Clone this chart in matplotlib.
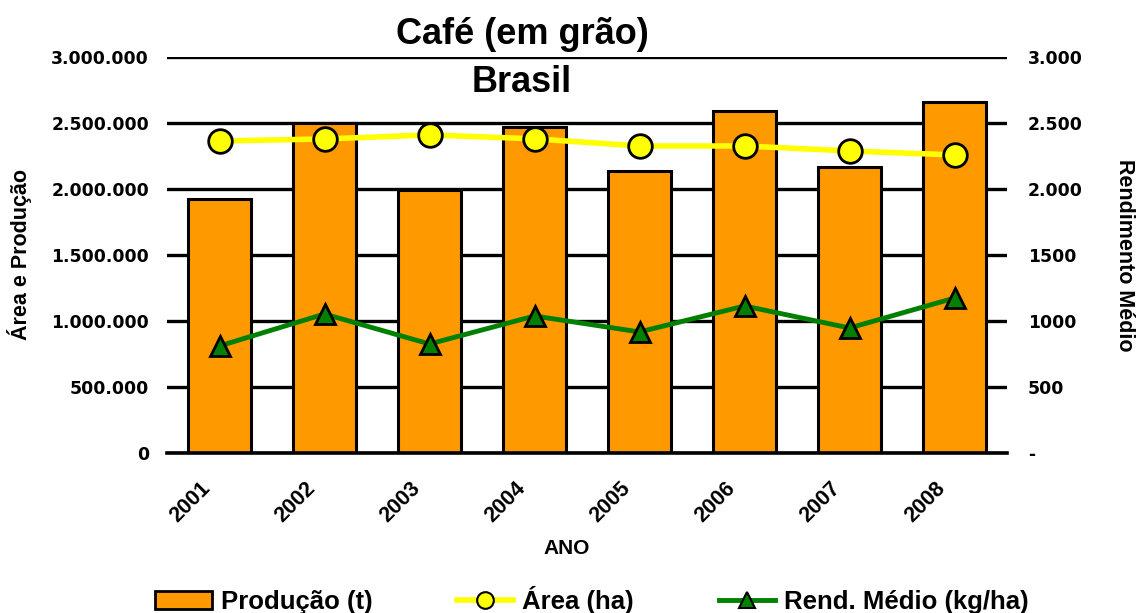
import matplotlib
matplotlib.use("Agg")
import matplotlib.pyplot as plt
import matplotlib.transforms as mtrans
from matplotlib.ticker import FixedLocator, FixedFormatter
from matplotlib.patches import Patch
from matplotlib.lines import Line2D

anos = ["2001", "2002", "2003", "2004", "2005", "2006", "2007", "2008"]
producao = [1924000, 2500000, 1992000, 2470000, 2136000, 2590000, 2167000, 2660000]
area = [2364000, 2379000, 2410000, 2380000, 2326000, 2326000, 2288000, 2258000]
rendimento = [811, 1053, 826, 1038, 917, 1114, 947, 1174]

left_ticks = [0, 500000, 1000000, 1500000, 2000000, 2500000, 3000000]
left_labels = ["0", "500.000", "1.000.000", "1.500.000", "2.000.000", "2.500.000", "3.000.000"]
right_ticks = [0, 500, 1000, 1500, 2000, 2500, 3000]
right_labels = ["-", "500", "1000", "1500", "2.000", "2.500", "3.000"]

fig = plt.figure(figsize=(11.41, 6.13), dpi=100)
ax = fig.add_axes([167/1141, 1 - 453/613, (1007-167)/1141, (453-57)/613])
ax2 = ax.twinx()

x = list(range(len(anos)))
ax.set_axisbelow(True)
ax.yaxis.grid(True, color="black", linewidth=2.4)
ax.bar(x, producao, width=0.6, color="#FF9900", edgecolor="black", linewidth=2.2, zorder=2)
ax.plot(x, area, color="#FFFF00", linewidth=4, marker="o", markersize=17,
        markerfacecolor="#FFFF00", markeredgecolor="black", markeredgewidth=2, zorder=3)
ax2.plot(x, rendimento, color="#008000", linewidth=3.5, marker="^", markersize=15,
         markerfacecolor="#008000", markeredgecolor="black", markeredgewidth=2, zorder=3)

ax.set_xlim(-0.5, len(anos) - 0.5)
ax.set_ylim(0, 3000000)
ax2.set_ylim(0, 3000)

for a in (ax, ax2):
    for s in a.spines.values():
        s.set_visible(False)
ax.spines["bottom"].set_visible(True)
ax.spines["bottom"].set_linewidth(2.6)

ax.yaxis.set_major_locator(FixedLocator(left_ticks))
ax.yaxis.set_major_formatter(FixedFormatter(left_labels))
ax2.yaxis.set_major_locator(FixedLocator(right_ticks))
ax2.yaxis.set_major_formatter(FixedFormatter(right_labels))
ax.tick_params(axis="y", length=0, pad=13, labelsize=12.4, labelfontfamily="DejaVu Sans")
ax2.tick_params(axis="y", length=0, pad=15, labelsize=12.4, labelfontfamily="DejaVu Sans")
for lab in ax.get_yticklabels() + ax2.get_yticklabels():
    lab.set_fontweight("bold")

ax.set_xticks(x)
ax.set_xticklabels(anos, rotation=45, ha="right", rotation_mode="anchor",
                   fontsize=15.5, fontweight="bold", family="Liberation Sans")
ax.tick_params(axis="x", length=0, pad=18)
offset = mtrans.ScaledTranslation(-20/100, 0, fig.dpi_scale_trans)
for lab in ax.get_xticklabels():
    lab.set_transform(lab.get_transform() + offset)

ax.set_xlabel("ANO", fontsize=15, fontweight="bold", family="Liberation Sans")
ax.xaxis.label.set_va("center")
ax.xaxis.set_label_coords((567 - 167) / 840, (453 - 548) / 396)
ax.set_ylabel("Área e Produção", fontsize=15.5, fontweight="bold", family="Liberation Sans", labelpad=14)
ax2.set_ylabel("Rendimento Médio", fontsize=15.5, fontweight="bold", family="Liberation Sans",
               rotation=-90, labelpad=38)

fig.text(522/1141, 1 - 35/613, "Café (em grão)", ha="center", va="center",
         fontsize=26, fontweight="bold", family="Liberation Sans")
fig.text(522/1141, 1 - 82/613, "Brasil", ha="center", va="center",
         fontsize=26, fontweight="bold", family="Liberation Sans")

handles = [
    Patch(facecolor="#FF9900", edgecolor="black", linewidth=2),
    Line2D([0], [0], color="#FFFF00", linewidth=4, marker="o", markersize=12,
           markerfacecolor="#FFFF00", markeredgecolor="black", markeredgewidth=1.5),
    Line2D([0], [0], color="#008000", linewidth=3.5, marker="^", markersize=12,
           markerfacecolor="#008000", markeredgecolor="black", markeredgewidth=1.5),
]
labels = ["Produção (t)", "Área (ha)", "Rend. Médio (kg/ha)"]
fig.legend(handles, labels, loc="center", bbox_to_anchor=(592/1141, 1 - 600/613), ncol=3,
           frameon=False, prop={"family": "Liberation Sans", "weight": "bold", "size": 18.5},
           handlelength=2.2, handletextpad=0.35, columnspacing=3.3)

fig.savefig("out.png", dpi=100)
